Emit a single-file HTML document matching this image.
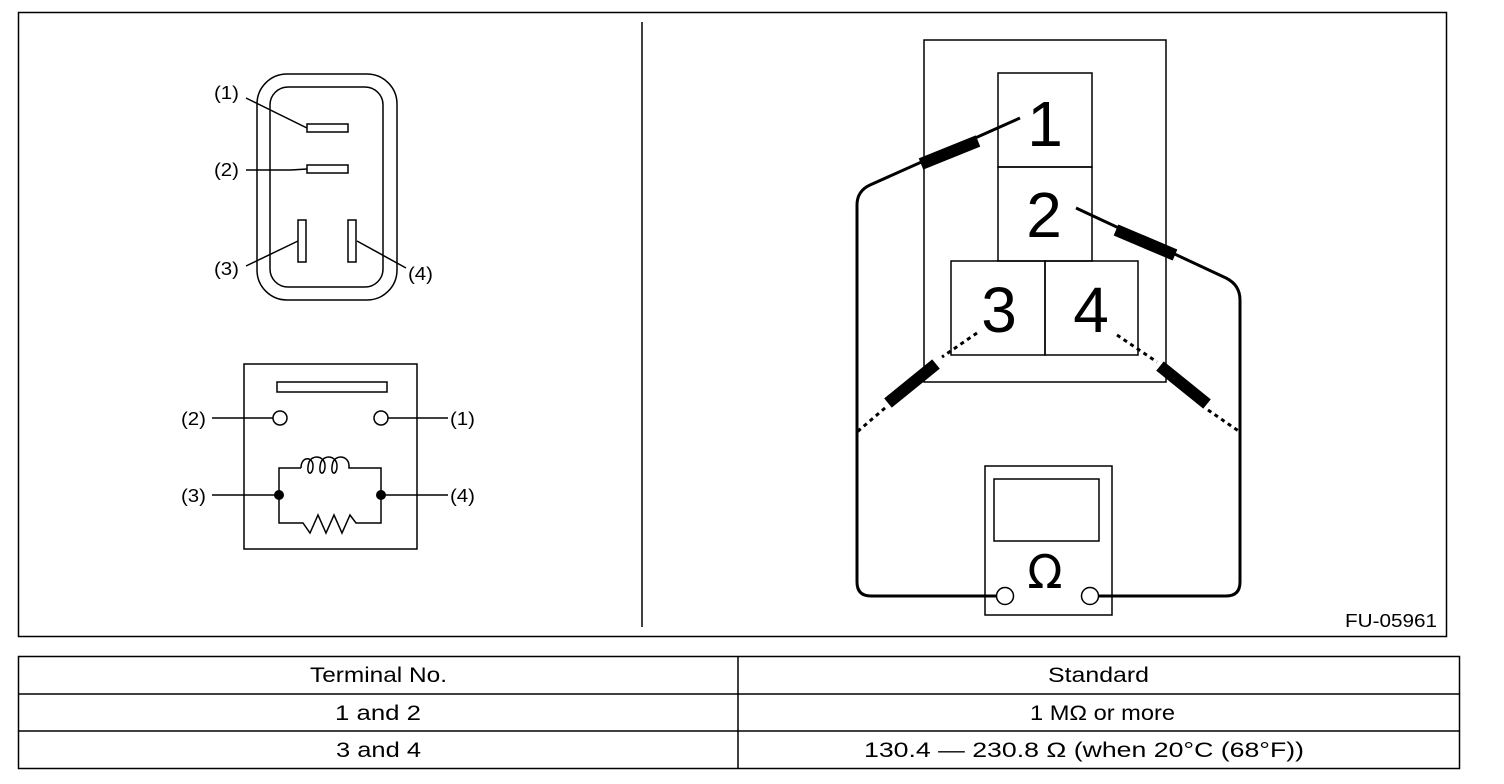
<!DOCTYPE html>
<html><head><meta charset="utf-8"><style>
body{margin:0;background:#fff;}
svg{display:block;font-family:"Liberation Sans",Arial,sans-serif;}
</style></head><body>
<svg width="1504" height="784" viewBox="0 0 1504 784" xmlns="http://www.w3.org/2000/svg">
<g fill="none" stroke="#000" stroke-width="1.5">
<rect x="18.5" y="12.5" width="1428" height="624"/>
<line x1="642" y1="22" x2="642" y2="627"/>
<rect x="257" y="74" width="140" height="226" rx="30"/>
<rect x="270" y="87" width="113" height="200" rx="18"/>
<rect x="307" y="124" width="41" height="8"/>
<rect x="307" y="165" width="41" height="8"/>
<rect x="298" y="220" width="8" height="42"/>
<rect x="348" y="220" width="8" height="42"/>
<polyline points="246,98 307,128"/>
<polyline points="246,170 291,170 307,169"/>
<polyline points="246,266 298,241"/>
<polyline points="357,241 406,268"/>
<rect x="244" y="364" width="173" height="185"/>
<rect x="277" y="382" width="110" height="10"/>
<circle cx="280" cy="418" r="7"/>
<circle cx="381" cy="418" r="7"/>
<line x1="212" y1="418" x2="273" y2="418"/>
<line x1="388" y1="418" x2="448" y2="418"/>
<line x1="212" y1="495" x2="279" y2="495"/>
<line x1="381" y1="495" x2="448" y2="495"/>
<polyline points="279,495 279,468 301,468"/>
<path d="M301,468 C301,456 313,456 313,466 C313,476 305,476 309,462 C313,454 325,456 325,466 C325,476 317,476 321,462 C325,454 337,456 337,466 C337,476 329,476 333,462 C337,454 349,456 349,466 L349,468 L381,468 L381,495"/>
<polyline points="279,495 279,523 303,523 310,533 318,515 326,533 334,515 342,533 350,515 356,523 381,523 381,495"/>
<rect x="924" y="40" width="242" height="342"/>
<rect x="998" y="73" width="94" height="94"/>
<rect x="998" y="167" width="94" height="94"/>
<rect x="951" y="261" width="94" height="94"/>
<rect x="1045" y="261" width="93" height="94"/>
<rect x="985" y="466" width="127" height="149"/>
<rect x="994" y="479" width="105" height="62"/>
<circle cx="1005" cy="596" r="8.5"/>
<circle cx="1090" cy="596" r="8.5"/>
</g>
<circle cx="279" cy="495" r="5" fill="#000"/>
<circle cx="381" cy="495" r="5" fill="#000"/>
<g fill="none" stroke="#000" stroke-width="3">
<path d="M1020,118 L870,185 Q857,191 857,205 L857,582 Q857,596 871,596 L996,596"/>
<path d="M1076,208 L1226,278 Q1240,285 1240,300 L1240,582 Q1240,596 1226,596 L1099,596"/>
<path d="M977,333 L942,357 M885,408 L857,432" stroke-dasharray="4,4"/>
<path d="M1117,335 L1157,362 M1208,410 L1240,432" stroke-dasharray="4,4"/>
</g>
<g stroke="#000" stroke-width="12" stroke-linecap="butt">
<line x1="921" y1="164" x2="978" y2="141"/>
<line x1="1116" y1="230" x2="1175" y2="255"/>
<line x1="936" y1="364" x2="888" y2="403"/>
<line x1="1160" y1="366" x2="1207" y2="404"/>
</g>
<g font-size="18" fill="#000" lengthAdjust="spacingAndGlyphs">
<text x="214" y="99" textLength="25" lengthAdjust="spacingAndGlyphs">(1)</text>
<text x="214" y="176" textLength="25" lengthAdjust="spacingAndGlyphs">(2)</text>
<text x="214" y="275" textLength="25" lengthAdjust="spacingAndGlyphs">(3)</text>
<text x="408" y="280" textLength="25" lengthAdjust="spacingAndGlyphs">(4)</text>
<text x="181" y="425" textLength="25" lengthAdjust="spacingAndGlyphs">(2)</text>
<text x="450" y="425" textLength="25" lengthAdjust="spacingAndGlyphs">(1)</text>
<text x="181" y="502" textLength="25" lengthAdjust="spacingAndGlyphs">(3)</text>
<text x="450" y="502" textLength="25" lengthAdjust="spacingAndGlyphs">(4)</text>
<text x="1345" y="627" textLength="92" lengthAdjust="spacingAndGlyphs">FU-05961</text>
</g>
<g font-size="64" fill="#000" text-anchor="middle">
<text x="1045" y="146">1</text>
<text x="1044" y="237">2</text>
<text x="999" y="332">3</text>
<text x="1091" y="332">4</text>
</g>
<text x="1045" y="588" font-size="46" text-anchor="middle" font-family="DejaVu Sans, sans-serif">Ω</text>
<g fill="none" stroke="#000" stroke-width="1.5">
<rect x="18.5" y="656.5" width="1441" height="112"/>
<line x1="18" y1="694" x2="1460" y2="694"/>
<line x1="18" y1="731" x2="1460" y2="731"/>
<line x1="738" y1="656" x2="738" y2="769"/>
</g>
<g font-size="21" fill="#000">
<text x="310" y="682" textLength="137" lengthAdjust="spacingAndGlyphs">Terminal No.</text>
<text x="1048" y="682" textLength="101" lengthAdjust="spacingAndGlyphs">Standard</text>
<text x="335" y="720" textLength="86" lengthAdjust="spacingAndGlyphs">1 and 2</text>
<text x="1030" y="720" textLength="145" lengthAdjust="spacingAndGlyphs">1 MΩ or more</text>
<text x="336" y="757" textLength="85" lengthAdjust="spacingAndGlyphs">3 and 4</text>
<text x="864" y="757" textLength="440" lengthAdjust="spacingAndGlyphs">130.4 — 230.8 Ω (when 20°C (68°F))</text>
</g>
</svg>
</body></html>
